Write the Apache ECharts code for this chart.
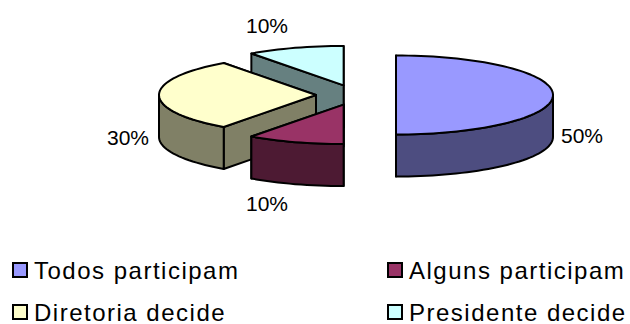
<!DOCTYPE html>
<html>
<head>
<meta charset="utf-8">
<style>
html,body{margin:0;padding:0;background:#fff}
#chart{width:630px;height:324px}
/* Legend captions are set a little looser than the slice percentages. */
#chart text[style*="24px"]{letter-spacing:1.5px}
</style>
<script src="https://cdn.jsdelivr.net/npm/echarts@6/dist/echarts.min.js"></script>
</head>
<body>
<div id="chart"></div>
<script>
// Shares of decision-making, drawn as an exploded pie with depth.
const categories = ['Todos participam', 'Alguns participam', 'Diretoria decide', 'Presidente decide'];
const shares = [50, 10, 30, 10];
const topColors = ['#9999FF', '#993366', '#FFFFCC', '#CCFFFF'];
const sideColors = ['#4D4D80', '#4D1A33', '#808066', '#668080'];

// Back slices are painted first so nearer ones overlap them.
const paintOrder = [3, 2, 1, 0];
const labelAnchors = [[582, 135], [267, 203], [128, 137], [267, 25]];

const pie = { cx: 356, cy: 95, rx: 157, ry: 39.5, depth: 42, explode: 40 };
const FONT = '"Liberation Sans", Arial, sans-serif';
const total = shares.reduce((a, b) => a + b, 0);

function sliceAngles(i) {
  const before = shares.slice(0, i).reduce((a, b) => a + b, 0);
  return [before / total * 2 * Math.PI, (before + shares[i]) / total * 2 * Math.PI];
}

// Angle 0 is twelve o'clock, increasing clockwise, flattened onto the ellipse.
function onRim(c, a, drop) {
  return [c[0] + pie.rx * Math.sin(a), c[1] - pie.ry * Math.cos(a) + (drop || 0)];
}

function arc(c, a0, a1, drop) {
  const steps = Math.max(2, Math.ceil((a1 - a0) / 0.04));
  const pts = [];
  for (let k = 0; k <= steps; k++) pts.push(onRim(c, a0 + (a1 - a0) * k / steps, drop));
  return pts;
}

function renderSlice(i) {
  const [a0, a1] = sliceAngles(i);
  const mid = (a0 + a1) / 2;
  const c = [pie.cx + pie.explode * Math.sin(mid), pie.cy - pie.explode * pie.ry / pie.rx * Math.cos(mid)];
  const line = { stroke: '#000', lineWidth: 2, lineJoin: 'round' };
  const poly = (points, fill) => ({
    type: 'polygon', shape: { points }, style: Object.assign({ fill }, line)
  });
  const face = a => {
    const r = onRim(c, a);
    return poly([c, r, [r[0], r[1] + pie.depth], [c[0], c[1] + pie.depth]], sideColors[i]);
  };
  const children = [face(a1), face(a0)];

  // The outer wall only shows along the front half of the rim.
  const w0 = Math.max(a0, Math.PI / 2), w1 = Math.min(a1, 1.5 * Math.PI);
  if (w1 > w0) {
    children.push(poly(arc(c, w0, w1, 0).concat(arc(c, w0, w1, pie.depth).reverse()), sideColors[i]));
  }
  children.push(poly([c].concat(arc(c, a0, a1, 0)), topColors[i]));
  children.push({
    type: 'text',
    style: {
      x: labelAnchors[i][0], y: labelAnchors[i][1],
      text: Math.round(shares[i] / total * 100) + '%',
      font: '21px ' + FONT, fill: '#000', align: 'center', verticalAlign: 'middle'
    }
  });
  return { type: 'group', children };
}

const chart = echarts.init(document.getElementById('chart'), null, { renderer: 'svg' });
const legendBase = {
  orient: 'vertical', top: 258, height: 110, padding: 0, itemWidth: 14, itemHeight: 14, itemGap: 18,
  icon: 'rect', selectedMode: false,
  itemStyle: { borderColor: '#000', borderWidth: 2 },
  textStyle: { fontFamily: FONT, fontSize: 24, color: '#000', padding: [0, 0, 0, 2] }
};
chart.setOption({
  animation: false,
  legend: [
    Object.assign({}, legendBase, { left: 12, data: [categories[0], categories[2]] }),
    Object.assign({}, legendBase, { left: 387, data: [categories[1], categories[3]] })
  ],
  series: paintOrder.map(i => ({
    type: 'custom',
    name: categories[i],
    coordinateSystem: 'none',
    silent: true,
    itemStyle: { color: topColors[i] },
    data: [[shares[i]]],
    renderItem: () => renderSlice(i)
  }))
});
</script>
</body>
</html>
